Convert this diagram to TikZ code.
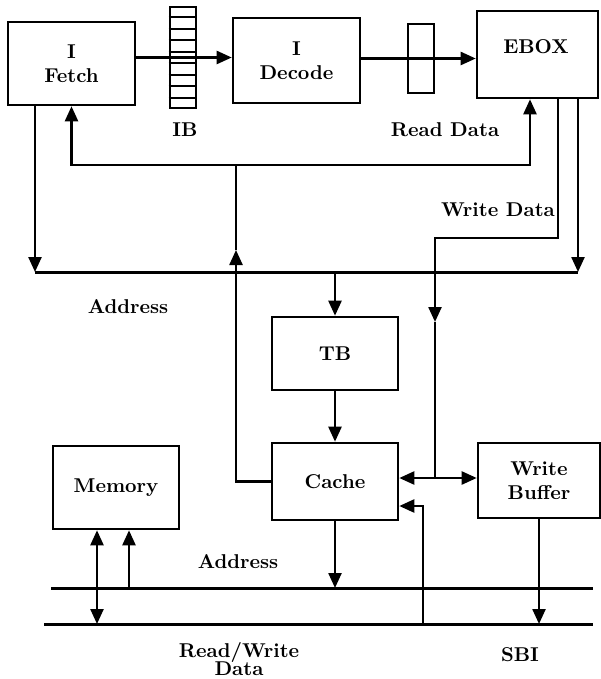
\documentclass[tikz,border=0pt]{standalone}
\usepackage{tikz}
\usetikzlibrary{arrows.meta}
\usetikzlibrary{calc}
\tikzset{%
  unit/.style = {rectangle,draw,line width=1.3pt,inner sep=0pt,
        align=center,font=\bfseries},
  reg/.style = {rectangle,draw,line width=1.3pt,inner sep=0pt},
  lbl/.style = {align=center,font=\bfseries,inner sep=0pt},
  sig/.style = {-{Triangle[length=7.5pt,width=6.5pt]},line width=1.2pt},
  dsig/.style = {{Triangle[length=7.5pt,width=6.5pt]}-{Triangle[length=7.5pt,width=6.5pt]},line width=1.2pt},
  wire/.style = {line width=1.2pt},
  busline/.style = {line width=1.5pt}
}

\begin{document}
\begin{tikzpicture}[x=0.5pt,y=-0.5pt]
    \useasboundingbox (0,0) rectangle (600,679);
    % units
    \node[unit,minimum width=63.5pt,minimum height=41.5pt] (fetch) at (71.5,63.5) {I\\Fetch};
    \node[unit,minimum width=63.5pt,minimum height=42.5pt] (decode) at (296.5,60.5) {I\\Decode};
    \node[unit,minimum width=60.5pt,minimum height=43.5pt] (ebox) at (537.5,54.5) {};
    \node[lbl] (eboxtext) at (536,47) {EBOX};
    \node[unit,minimum width=63pt,minimum height=36.5pt] (tb) at (335,353.5) {TB};
    \node[unit,minimum width=63pt,minimum height=38.5pt] (cache) at (335,481.5) {Cache};
    \node[unit,minimum width=61pt,minimum height=37.5pt] (wb) at (539,480.5) {Write\\Buffer};
    \node[unit,minimum width=63pt,minimum height=41.5pt] (mem) at (116,487.5) {Memory};
    % registers
    \node[reg,minimum width=13pt,minimum height=50.5pt] (ib) at (183,57.5) {};
    \foreach \k in {1,...,8}
        \draw[line width=1pt] ($(ib.north west)!\k/9!(ib.south west)$) -- ($(ib.north east)!\k/9!(ib.south east)$);
    \node[reg,minimum width=13pt,minimum height=34.5pt] (rb) at (421,58.5) {};
    % labels
    \node[lbl] (iblabel) at (185,130) {IB};
    \node[lbl] (rdlabel) at (445,130) {Read Data};
    \node[lbl] (wdlabel) at (498,210) {Write Data};
    \node[lbl] (addrup) at (128,307) {Address};
    \node[lbl] (addrlow) at (238,562) {Address};
    \node[lbl] (rwlabel) at (239,659) {Read/Write\\[-3pt]Data};
    \node[lbl] (sbilabel) at (520,655) {SBI};
    % bus points
    \coordinate (ubusl) at (35,272);
    \coordinate (ubusr) at (578,272);
    \coordinate (abusl) at (51,588);
    \coordinate (abusr) at (593,588);
    \coordinate (rwbusl) at (44,624);
    \coordinate (rwbusr) at (593,624);
    \coordinate (rdj) at (236,165);
    \coordinate (rdup) at (236,250);
    \coordinate (rde) at (530,165);
    \coordinate (wdtop) at (558,238);
    \coordinate (wdbend) at (435,238);
    \coordinate (wddown) at (435,322);
    \coordinate (wdj) at (435,478);
    \coordinate (rwj) at (423,624);
    \coordinate (rwturn) at (423,506);
    \coordinate (memrw) at (97,624);
    \coordinate (memad) at (129,588);
    % buses
    \draw[busline] (ubusl) -- (ubusr);
    \draw[busline] (abusl) -- (abusr);
    \draw[busline] (rwbusl) -- (rwbusr);
    % pipeline
    \draw[sig] (fetch.east |- ib.center) -- (decode.west |- ib.center);
    \draw[sig] (decode.east |- rb.center) -- (ebox.west |- rb.center);
    % read data
    \draw[sig] (cache.west) -| (rdup);
    \draw[wire] (rdup) -- (rdj);
    \draw[sig] (rdj) -| (fetch.south);
    \draw[sig] (rdj) -- (rde) -- (rde |- ebox.south);
    % address
    \draw[sig] (fetch.south -| ubusl) -- (ubusl);
    \draw[sig] (ebox.south -| ubusr) -- (ubusr);
    \draw[sig] (tb.north |- ubusl) -- (tb.north);
    \draw[sig] (tb.south) -- (cache.north);
    % write data
    \draw[sig] (ebox.south -| wdtop) -- (wdtop) -- (wdbend) -- (wddown);
    \draw[wire] (wddown) -- (wdj);
    \draw[dsig] (cache.east |- wdj) -- (wb.west |- wdj);
    % SBI
    \draw[sig] (cache.south) -- (cache.south |- abusl);
    \draw[sig] (wb.south) -- (wb.south |- rwbusl);
    \draw[sig] (rwj) -- (rwturn) -- (cache.east |- rwturn);
    \draw[dsig] (mem.south -| memrw) -- (memrw);
    \draw[sig] (memad) -- (memad |- mem.south);
\end{tikzpicture}
\end{document}
